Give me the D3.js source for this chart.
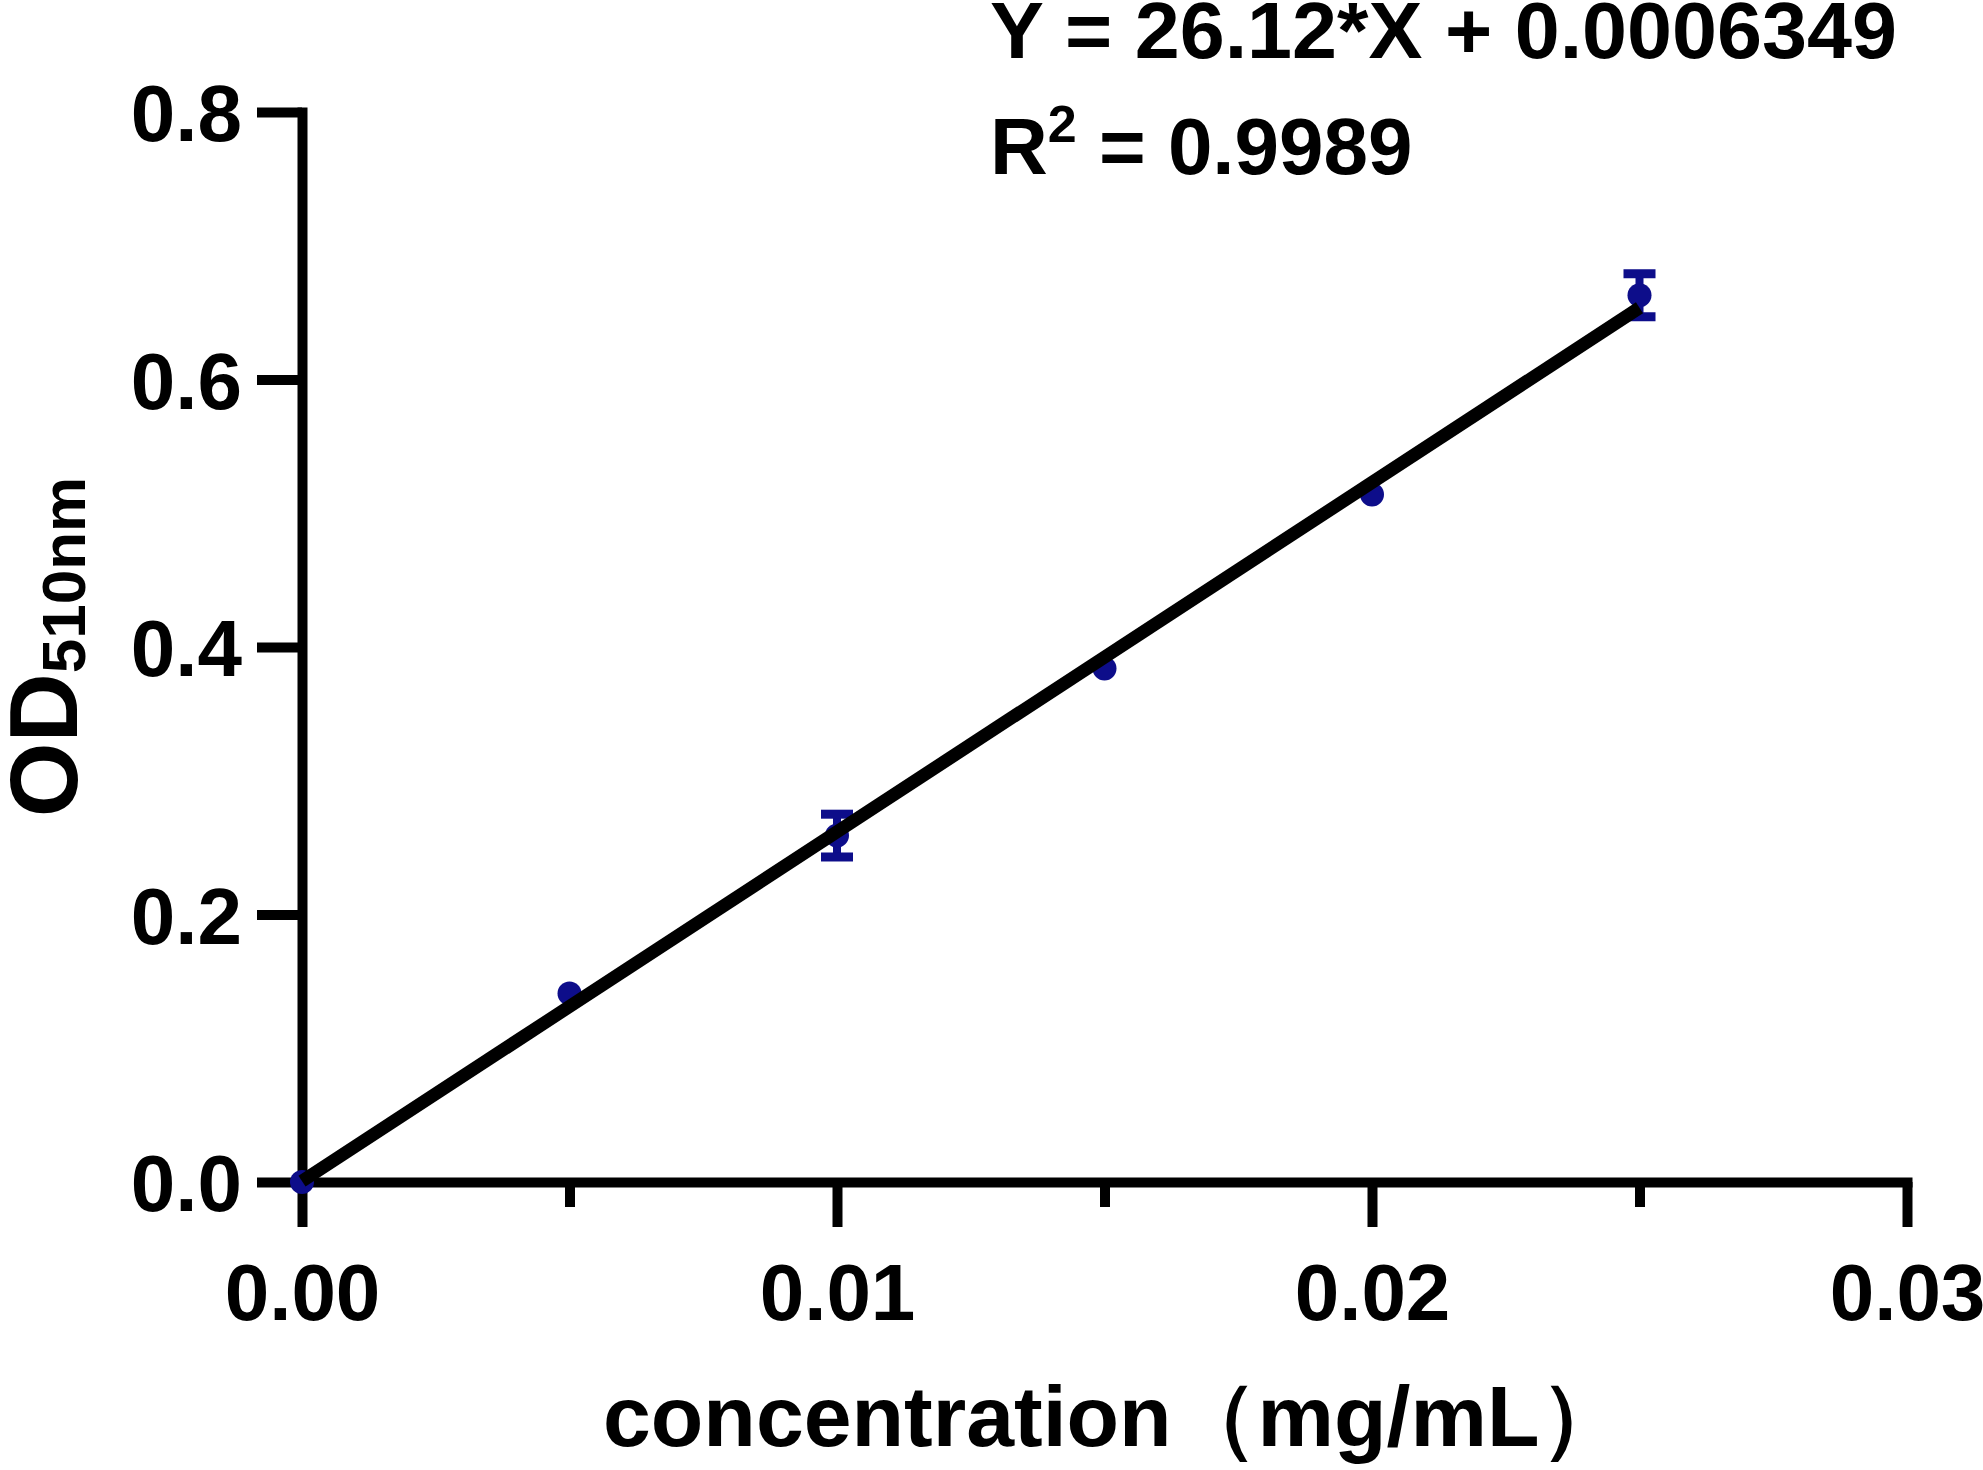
<!DOCTYPE html>
<html>
<head>
<meta charset="utf-8">
<script src="https://cdn.jsdelivr.net/npm/d3@7"></script>
<style>
  html, body { margin: 0; padding: 0; background: #fff; }
  svg { display: block; }
  text { font-family: "Liberation Sans", Arial, sans-serif; font-weight: bold; fill: #000; }
</style>
</head>
<body>
<svg id="chart" width="1983" height="1470"></svg>
<script>
// Data
const concentrations = [0, 0.005, 0.010, 0.015, 0.020, 0.025];
const odValues       = [0, 0.141, 0.259, 0.384, 0.514, 0.663];
const odErrors       = [0, 0, 0.016, 0, 0, 0.016];
const slope = 26.12, intercept = 0.0006349;
const xTicks = [0, 0.01, 0.02, 0.03];
const xMinorTicks = [0.005, 0.015, 0.025];
const yTicks = [0, 0.2, 0.4, 0.6, 0.8];
const equationText = "Y = 26.12*X + 0.0006349";
const r2Value = "0.9989";

const svg = d3.select("#chart");
const x = d3.scaleLinear().domain([0, 0.03]).range([302, 1907]);
const y = d3.scaleLinear().domain([0, 0.8]).range([1182, 112]);

const axisColor = "#000", sw = 10;

// X axis
const gx = svg.append("g").attr("transform", `translate(0,${y(0)})`)
  .call(d3.axisBottom(x).tickValues(xTicks).tickSize(45).tickSizeOuter(0).tickPadding(36)
        .tickFormat(d3.format(".2f")));
gx.select(".domain").attr("stroke", axisColor).attr("stroke-width", sw).attr("stroke-linecap", "square");
gx.selectAll(".tick line").attr("stroke", axisColor).attr("stroke-width", sw);
gx.selectAll(".tick text").attr("font-size", 80).attr("dy", "0.71em")
  .style("font-family", '"Liberation Sans", Arial, sans-serif').style("font-weight", "bold").attr("fill", "#000");

svg.append("g").attr("transform", `translate(0,${y(0)})`)
  .call(d3.axisBottom(x).tickValues(xMinorTicks).tickSize(25).tickSizeOuter(0).tickFormat(""))
  .call(g => g.select(".domain").remove())
  .selectAll(".tick line").attr("stroke", axisColor).attr("stroke-width", sw);

// Y axis
const gy = svg.append("g").attr("transform", `translate(${x(0)},0)`)
  .call(d3.axisLeft(y).tickValues(yTicks).tickSize(45).tickSizeOuter(0).tickPadding(15)
        .tickFormat(d3.format(".1f")));
gy.select(".domain").attr("stroke", axisColor).attr("stroke-width", sw).attr("stroke-linecap", "square");
gy.selectAll(".tick line").attr("stroke", axisColor).attr("stroke-width", sw);
gy.selectAll(".tick text").attr("font-size", 80).attr("dy", "0.36em")
  .style("font-family", '"Liberation Sans", Arial, sans-serif').style("font-weight", "bold").attr("fill", "#000");

// Data points + error bars
const ptColor = "#0d0d8a";
const pts = concentrations.map((c, i) => ({c, v: odValues[i], e: odErrors[i]}));
const eb = svg.append("g");
pts.filter(d => d.e > 0).forEach(d => {
  const cx = x(d.c);
  eb.append("line").attr("x1", cx).attr("x2", cx).attr("y1", y(d.v + d.e)).attr("y2", y(d.v - d.e))
    .attr("stroke", ptColor).attr("stroke-width", 8);
  [d.v + d.e, d.v - d.e].forEach(v => {
    eb.append("line").attr("x1", cx - 16).attr("x2", cx + 16).attr("y1", y(v)).attr("y2", y(v))
      .attr("stroke", ptColor).attr("stroke-width", 9);
  });
});
svg.append("g").selectAll("circle").data(pts).join("circle")
  .attr("cx", d => x(d.c)).attr("cy", d => y(d.v)).attr("r", 12).attr("fill", ptColor);

// Fit line
const fitX = [0, 0.025];
svg.append("path")
  .datum(fitX.map(c => [c, slope * c + intercept]))
  .attr("d", d3.line().x(d => x(d[0])).y(d => y(d[1])))
  .attr("stroke", "#000").attr("stroke-width", 13).attr("fill", "none");

// Equation text
svg.append("text").attr("x", 990).attr("y", 58).attr("font-size", 80)
  .attr("textLength", 907).attr("lengthAdjust", "spacingAndGlyphs").text(equationText);
const r2 = svg.append("text").attr("x", 990).attr("y", 174).attr("font-size", 80);
r2.append("tspan").text("R");
r2.append("tspan").attr("font-size", 52).attr("dy", -32).text("2");
r2.append("tspan").attr("dy", 32).text(" = " + r2Value);

// Axis titles
svg.append("text").attr("x", 603).attr("y", 1446).attr("font-size", 86)
  .text("concentration（mg/mL）");

const yt = svg.append("text").attr("transform", `translate(77,647) rotate(-90)`)
  .attr("text-anchor", "middle").attr("font-size", 96);
yt.append("tspan").text("OD");
yt.append("tspan").attr("font-size", 62).attr("dy", 8).text("510nm");
</script>
</body>
</html>
